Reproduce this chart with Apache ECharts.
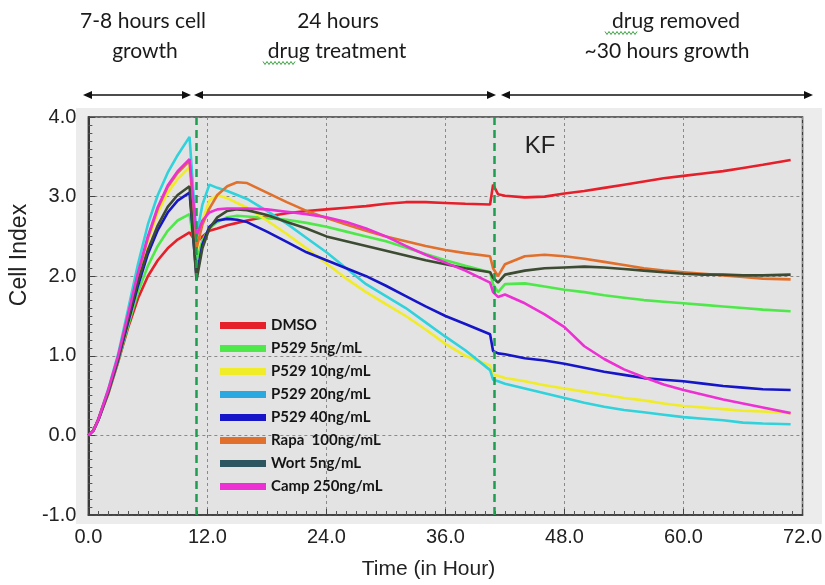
<!DOCTYPE html>
<html>
<head>
<meta charset="utf-8">
<script src="https://cdn.jsdelivr.net/npm/echarts@6/dist/echarts.min.js"></script>
<style>
  html, body { margin: 0; padding: 0; background: #fff; }
  #chart { width: 825px; height: 585px; }
</style>
</head>
<body>
<div id="chart"></div>
<script>
// time points (hours) shared by every curve
var hours = [0, 0.5, 1, 2, 3, 4, 5, 6, 7, 8, 9, 10.2, 10.9, 11.5, 12.2, 13, 14, 15, 16,
  18, 20, 22, 24, 26, 28, 30, 32, 34, 36, 38, 40.5, 40.8, 41.3, 42, 44, 46, 48, 50,
  52, 54, 56, 58, 60, 62, 64, 66, 68, 70.8];

// cell index per treatment
var dmso = [0, 0.06, 0.19, 0.52, 0.92, 1.35, 1.72, 2.0, 2.2, 2.35, 2.46, 2.55,
  2.42, 2.5, 2.57, 2.6, 2.64, 2.67, 2.7,
  2.75, 2.79, 2.82, 2.84, 2.86, 2.88, 2.91, 2.93, 2.93, 2.92, 2.91, 2.9,
  3.15, 3.03, 3.01, 2.99, 3.0, 3.04, 3.07, 3.11, 3.15, 3.19, 3.23, 3.26, 3.29, 3.32, 3.36, 3.4, 3.46];
var p529_5 = [0, 0.06, 0.19, 0.53, 0.93, 1.38, 1.8, 2.13, 2.38, 2.57, 2.7, 2.78,
  2.2, 2.45, 2.6, 2.68, 2.74, 2.76, 2.75,
  2.73, 2.71, 2.67, 2.62, 2.56, 2.5, 2.44, 2.36, 2.28, 2.2, 2.13, 2.05,
  1.9, 1.8, 1.9, 1.91, 1.87, 1.83, 1.8, 1.76, 1.73, 1.7, 1.68, 1.66, 1.64, 1.62, 1.6, 1.58, 1.56];
var p529_10 = [0, 0.06, 0.2, 0.56, 0.98, 1.5, 2.0, 2.45, 2.8, 3.05, 3.22, 3.37,
  2.3, 2.7, 2.95, 3.02, 2.98, 2.92, 2.86,
  2.7, 2.53, 2.35, 2.16, 1.97, 1.8, 1.65, 1.5, 1.33, 1.15, 1.0, 0.88,
  0.76, 0.75, 0.72, 0.68, 0.63, 0.59, 0.55, 0.51, 0.47, 0.44, 0.4, 0.37, 0.35, 0.33, 0.31, 0.3, 0.28];
var p529_20 = [0, 0.06, 0.2, 0.58, 1.02, 1.58, 2.15, 2.65, 3.02, 3.3, 3.52, 3.75,
  2.5, 2.9, 3.15, 3.11, 3.07, 3.02, 2.97,
  2.82, 2.66, 2.48, 2.3, 2.1, 1.9, 1.75, 1.6, 1.42, 1.24, 1.07, 0.82,
  0.7, 0.68, 0.65, 0.59, 0.53, 0.47, 0.41, 0.36, 0.32, 0.29, 0.26, 0.23, 0.21, 0.19, 0.16, 0.15, 0.14];
var p529_40 = [0, 0.06, 0.19, 0.54, 0.95, 1.42, 1.88, 2.28, 2.58, 2.8, 2.95, 3.05,
  2.0, 2.4, 2.62, 2.7, 2.72, 2.71, 2.68,
  2.56, 2.43, 2.3, 2.2, 2.1, 2.0, 1.88, 1.75, 1.62, 1.5, 1.4, 1.27,
  1.06, 1.03, 1.02, 0.97, 0.94, 0.9, 0.85, 0.8, 0.76, 0.72, 0.7, 0.68, 0.65, 0.62, 0.6, 0.58, 0.57];
var rapa = [0, 0.06, 0.2, 0.56, 0.98, 1.5, 2.02, 2.48, 2.85, 3.12, 3.3, 3.45,
  2.35, 2.65, 2.85, 3.02, 3.13, 3.18, 3.17,
  3.05, 2.93, 2.82, 2.73, 2.65, 2.57, 2.5, 2.44, 2.38, 2.33, 2.29, 2.25,
  2.1, 2.0, 2.15, 2.25, 2.27, 2.25, 2.22, 2.18, 2.14, 2.1, 2.07, 2.05, 2.03, 2.01, 1.99, 1.97, 1.96];
var wort = [0, 0.06, 0.2, 0.55, 0.96, 1.45, 1.93, 2.33, 2.64, 2.87, 3.02, 3.13,
  1.95, 2.35, 2.6, 2.74, 2.82, 2.84, 2.83,
  2.77, 2.68, 2.6, 2.5, 2.44, 2.38, 2.32, 2.26, 2.2, 2.15, 2.1, 2.05,
  1.98, 1.92, 2.02, 2.07, 2.1, 2.11, 2.12, 2.11, 2.09, 2.07, 2.05, 2.03, 2.02, 2.02, 2.01, 2.01, 2.02];
var camp = [0, 0.06, 0.2, 0.57, 1.0, 1.52, 2.04, 2.5, 2.87, 3.14, 3.32, 3.47,
  2.5, 2.7, 2.8, 2.84, 2.85, 2.85, 2.85,
  2.84, 2.81, 2.78, 2.74, 2.68, 2.6, 2.5, 2.38, 2.27, 2.17, 2.07, 1.92,
  1.8, 1.74, 1.77, 1.66, 1.52, 1.36, 1.12, 0.96, 0.83, 0.73, 0.64, 0.57, 0.51, 0.45, 0.4, 0.35, 0.28];

var seriesNames = ['DMSO', 'P529 5ng/mL', 'P529 10ng/mL', 'P529 20ng/mL', 'P529 40ng/mL',
  'Rapa  100ng/mL', 'Wort 5ng/mL', 'Camp 250ng/mL'];
var seriesValues = [dmso, p529_5, p529_10, p529_20, p529_40, rapa, wort, camp];
var lineColors = ['#e5202a', '#4fe84a', '#f0ec28', '#30d2dc', '#1616c8', '#e0702c', '#3d4b32', '#ec30d4'];
var legendColors = ['#e5202a', '#4fe84a', '#f0ec28', '#2aa8e0', '#1616c8', '#e0702c', '#2d5661', '#ec30d4'];

// drug added / drug removed
var eventHours = [10.9, 40.9];
var xTickLabels = ['0.0', '12.0', '24.0', '36.0', '48.0', '60.0', '72.0'];
var yTickLabels = ['-1.0', '0.0', '1.0', '2.0', '3.0', '4.0'];

var chart = echarts.init(document.getElementById('chart'));

var series = seriesNames.map(function (name, i) {
  return {
    name: name,
    type: 'line',
    showSymbol: false,
    symbol: 'none',
    data: hours.map(function (h, k) { return [h, seriesValues[i][k]]; }),
    lineStyle: { color: lineColors[i], width: 2.6 },
    itemStyle: { color: lineColors[i] },
    z: 3
  };
});
series[0].markLine = {
  silent: true,
  symbol: 'none',
  label: { show: false },
  lineStyle: { color: '#1e9e50', width: 2.5, type: [8, 5] },
  data: eventHours.map(function (h) { return { xAxis: h }; })
};

function arrow(x1, x2, y) {
  return [
    { type: 'line', shape: { x1: x1 + 4, y1: y, x2: x2 - 4, y2: y }, style: { stroke: '#111', lineWidth: 1.5 } },
    { type: 'polygon', shape: { points: [[x1, y], [x1 + 9, y - 4], [x1 + 9, y + 4]] }, style: { fill: '#111' } },
    { type: 'polygon', shape: { points: [[x2, y], [x2 - 9, y - 4], [x2 - 9, y + 4]] }, style: { fill: '#111' } }
  ];
}
function note(text, x, y) {
  return { type: 'text', x: x, y: y, style: { text: text, fill: '#1a1a1a', font: '21px Lato', align: 'center', verticalAlign: 'middle' } };
}
function squiggle(x, y, w) {
  var pts = [];
  for (var i = 0; i <= w; i += 2) pts.push([x + i, y + ((i / 2) % 2 ? 1.5 : -1.5)]);
  return { type: 'polyline', shape: { points: pts }, style: { stroke: '#3aa040', lineWidth: 1 } };
}

var graphics = [
  { type: 'rect', shape: { x: 76, y: 108, width: 746, height: 416 }, style: { fill: '#ececec' }, z: -10 },
  note('7-8 hours cell', 143, 21), note('growth', 145, 51),
  note('24 hours', 338, 21), note('drug treatment', 337, 51),
  note('drug removed', 676, 21), note('~30 hours growth', 667, 51),
  squiggle(263, 63, 32), squiggle(605, 33, 32),
  { type: 'text', x: 540, y: 146, style: { text: 'KF', fill: '#222', font: '24px "Liberation Sans", Arial', align: 'center', verticalAlign: 'middle' } }
].concat(arrow(83, 191, 95), arrow(194, 496, 95), arrow(501, 813, 95));

chart.setOption({
  backgroundColor: '#ffffff',
  animation: false,
  grid: {
    left: 86, right: 13, top: 117, bottom: 69,
    show: true, backgroundColor: '#e3e3e3', borderColor: '#3a3a3a', borderWidth: 1.5
  },
  legend: {
    orient: 'vertical',
    left: 215, top: 313,
    itemWidth: 46, itemHeight: 7, itemGap: 8,
    icon: 'rect',
    textStyle: { fontFamily: 'Lato', fontSize: 15, color: '#151515', fontWeight: 'bold' },
    data: seriesNames.map(function (n, i) { return { name: n, itemStyle: { color: legendColors[i] } }; })
  },
  xAxis: {
    type: 'value', min: 0, max: 72, interval: 12,
    name: 'Time (in Hour)', nameLocation: 'middle', nameGap: 44,
    nameTextStyle: { fontFamily: '"Liberation Sans", Arial', fontSize: 21, color: '#222', padding: [0, 34, 0, 0] },
    axisLine: { show: true, onZero: false, lineStyle: { color: '#3a3a3a', width: 1.5 } },
    axisTick: { show: true, inside: true, length: 6, lineStyle: { color: '#444' } },
    minorTick: { show: true, splitNumber: 12, length: 4, lineStyle: { color: '#555' } },
    axisLabel: {
      margin: 12, fontFamily: '"Liberation Sans", Arial', fontSize: 20, color: '#222',
      formatter: function (v) { return xTickLabels[Math.round(v / 12)]; }
    },
    splitLine: { show: true, lineStyle: { color: '#8a8a8a', type: [3, 3], width: 1 } }
  },
  yAxis: {
    type: 'value', min: -1, max: 4, interval: 1,
    name: 'Cell Index', nameLocation: 'middle', nameGap: 52,
    nameTextStyle: { fontFamily: '"Liberation Sans", Arial', fontSize: 23, color: '#222', padding: [0, 0, 0, 122] },
    axisLine: { show: true, onZero: false, lineStyle: { color: '#3a3a3a', width: 2 } },
    axisTick: { show: true, inside: true, length: 7, lineStyle: { color: '#444' } },
    minorTick: { show: true, splitNumber: 10, length: 4, lineStyle: { color: '#555' } },
    axisLabel: {
      margin: 12, fontFamily: '"Liberation Sans", Arial', fontSize: 20, color: '#222',
      formatter: function (v) { return yTickLabels[Math.round(v + 1)]; }
    },
    splitLine: { show: true, lineStyle: { color: '#8a8a8a', type: [3, 3], width: 1 } }
  },
  graphic: graphics,
  series: series
});
</script>
</body>
</html>
